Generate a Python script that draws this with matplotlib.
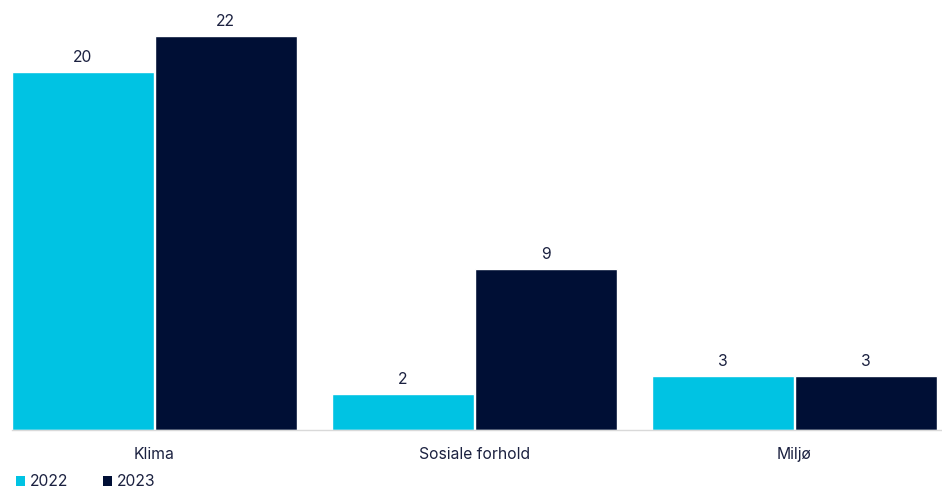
import matplotlib
matplotlib.use("Agg")
import matplotlib.pyplot as plt
from matplotlib.patches import Patch
import numpy as np

categories = ["Klima", "Sosiale forhold", "Miljø"]
series_names = ["2022", "2023"]
values_2022 = [20, 2, 3]
values_2023 = [22, 9, 3]

colors = ["#00C3E3", "#000F35"]
text_color = "#1B2140"

plt.rcParams["font.family"] = ["Inter", "DejaVu Sans"]

fig = plt.figure(figsize=(9.42, 4.88), dpi=100)
ax = fig.add_axes([12 / 942, 58 / 488, 930 / 942, 430 / 488])

x = np.arange(len(categories))
width = 0.444
offsets = [-0.2235, 0.2225]
for vals, off, col, name in zip([values_2022, values_2023], offsets, colors, series_names):
    bars = ax.bar(x + off, vals, width=width, color=col, edgecolor="white",
                  linewidth=1.0, label=name, zorder=2)
    for b, v in zip(bars, vals):
        ax.annotate(f"{v}", (b.get_x() + b.get_width() / 2, v),
                    xytext=(0, 5), textcoords="offset points",
                    ha="center", va="bottom", fontsize=11.3, color=text_color)

ax.set_xlim(-0.445, 2.461)
ax.set_ylim(0, 24.0)
for s in ["top", "right", "left"]:
    ax.spines[s].set_visible(False)
ax.spines["bottom"].set_color("#D9D9D9")
ax.spines["bottom"].set_linewidth(1.0)
ax.set_yticks([])
ax.set_xticks(x)
ax.set_xticklabels(categories, fontsize=11.3, color=text_color)
ax.tick_params(axis="x", length=0, pad=12)

handles = [Patch(facecolor=c, edgecolor="none") for c in colors]
fig.legend(handles, series_names, loc="center left",
           bbox_to_anchor=(16 / 942, 1 - 482 / 488), ncol=2, frameon=False,
           fontsize=11.3, handlelength=0.6, handleheight=0.6, handletextpad=0.3,
           columnspacing=2.2, labelcolor=text_color, borderaxespad=0, borderpad=0)

fig.savefig("out.png", dpi=100)
